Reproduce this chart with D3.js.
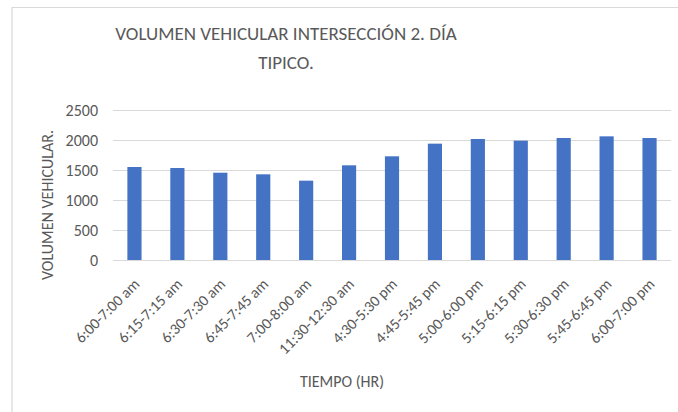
<!DOCTYPE html>
<html>
<head>
<meta charset="utf-8">
<script src="https://cdn.jsdelivr.net/npm/d3@7"></script>
<style>
  body { margin: 0; background: #fff; }
  svg text { font-family: Carlito, "Open Sans", sans-serif; fill: #595959; }
</style>
</head>
<body>
<div id="chart"></div>
<script>
const width = 678, height = 412,
  margin = { top: 110, bottom: 152, left: 113, right: 7 };

// data
const periods = ["6:00-7:00 am", "6:15-7:15 am", "6:30-7:30 am", "6:45-7:45 am",
  "7:00-8:00 am", "11:30-12:30 am", "4:30-5:30 pm", "4:45-5:45 pm",
  "5:00-6:00 pm", "5:15-6:15 pm", "5:30-6:30 pm", "5:45-6:45 pm", "6:00-7:00 pm"];
const volumes = [1550, 1533, 1455, 1428, 1322, 1578, 1728, 1939, 2017, 1989, 2033, 2061, 2033];
const yTicks = [0, 500, 1000, 1500, 2000, 2500];
const titleLines = ["VOLUMEN VEHICULAR INTERSECCIÓN 2. DÍA", "TIPICO."];

const data = periods.map((p, i) => ({ period: p, volume: volumes[i] }));

const svg = d3.select("#chart")
  .append("svg")
  .attr("width", width)
  .attr("height", height);

// chart frame
svg.append("path")
  .attr("d", `M12,${height} V7.5 H${width}`)
  .attr("fill", "none")
  .attr("stroke", "#d9d9d9")
  .attr("stroke-width", 1.2);

const xScale = d3.scaleBand()
  .domain(periods)
  .range([margin.left, width - margin.right])
  .paddingInner(0.67)
  .paddingOuter(0.335);

const yScale = d3.scaleLinear()
  .domain([0, 2500])
  .range([height - margin.bottom, margin.top]);

// gridlines
svg.append("g")
  .selectAll("line")
  .data(yTicks)
  .join("line")
  .attr("x1", margin.left)
  .attr("x2", width - margin.right)
  .attr("y1", d => yScale(d) + 0.5)
  .attr("y2", d => yScale(d) + 0.5)
  .attr("stroke", "#d9d9d9")
  .attr("stroke-width", 1);

const yAxis = svg.append("g")
  .attr("transform", `translate(${margin.left - 15},0)`)
  .call(d3.axisLeft(yScale).tickValues(yTicks).tickFormat(d3.format("d")).tickSize(0).tickPadding(0));
yAxis.select(".domain").remove();
yAxis.selectAll("text")
  .style("font-size", "16px")
  .attr("dy", "0.35em");

svg.append("g")
  .selectAll("rect")
  .data(data)
  .join("rect")
  .attr("x", d => xScale(d.period))
  .attr("width", xScale.bandwidth())
  .attr("y", d => yScale(d.volume))
  .attr("height", d => yScale(0) - yScale(d.volume))
  .attr("fill", "#4472c4");

// rotated category labels
svg.append("g")
  .selectAll("text")
  .data(periods)
  .join("text")
  .attr("transform", d => `translate(${xScale(d) + xScale.bandwidth() / 2 + 6},${yScale(0) + 25}) rotate(-45)`)
  .attr("text-anchor", "end")
  .style("font-size", "15.5px")
  .text(d => d);

// title
svg.append("g")
  .selectAll("text")
  .data(titleLines)
  .join("text")
  .attr("x", 286)
  .attr("y", (d, i) => 40 + i * 29)
  .attr("text-anchor", "middle")
  .style("font-size", "19px")
  .text(d => d);

svg.append("text")
  .attr("x", 342)
  .attr("y", 387)
  .attr("text-anchor", "middle")
  .style("font-size", "16px")
  .text("TIEMPO (HR)");

svg.append("text")
  .attr("transform", "translate(53,205) rotate(-90)")
  .attr("text-anchor", "middle")
  .style("font-size", "16px")
  .text("VOLUMEN VEHICULAR.");
</script>
</body>
</html>
